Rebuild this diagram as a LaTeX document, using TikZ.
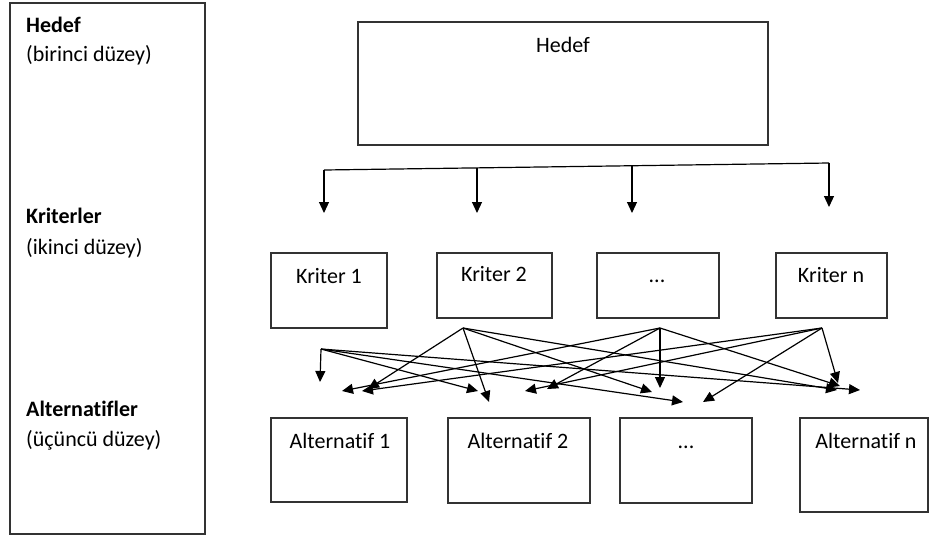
\documentclass[tikz,border=0pt]{standalone}
\usepackage{fontspec}
\setmainfont[Ligatures={NoCommon}]{Carlito}
\usetikzlibrary{arrows.meta}
\begin{document}
\begin{tikzpicture}[x=1pt,y=-1pt,
  box/.style={draw=black!80, line width=1.4pt, anchor=north west, inner sep=0pt, outer sep=0pt},
  txt/.style={font=\fontsize{22}{26}\selectfont, anchor=base, inner sep=0pt, text=black},
  lbl/.style={font=\fontsize{22}{26}\selectfont, anchor=base west, inner sep=0pt, text=black},
  lblb/.style={font=\fontsize{22}{26}\selectfont\bfseries, anchor=base west, inner sep=0pt, text=black},
  link/.style={line width=1.2pt, black},
  conn/.style={line width=1.2pt, black, -{Triangle[length=11pt,width=10pt]}}]
\useasboundingbox (0,0) rectangle (929,539);
% level frame
\node[box, minimum width=195pt, minimum height=531pt] (frame) at (10,3) {};
\node[lblb] (l1) at (26,32) {Hedef};
\node[lbl]  (l1b) at (26,61) {(birinci düzey)};
\node[lblb] (l2) at (26,223) {Kriterler};
\node[lbl]  (l2b) at (26,254) {(ikinci düzey)};
\node[lblb] (l3) at (26,416) {Alternatifler};
\node[lbl]  (l3b) at (26,446) {(üçüncü düzey)};
% goal
\node[box, minimum width=410pt, minimum height=123pt] (hedef) at (358,22) {};
\node[txt] (hedeft) at (563,52) {Hedef};
% criteria
\node[box, minimum width=116pt, minimum height=75pt] (k1) at (271,253) {};
\node[box, minimum width=115pt, minimum height=65pt] (k2) at (437,253) {};
\node[box, minimum width=122pt, minimum height=65pt] (k3) at (597,253) {};
\node[box, minimum width=111pt, minimum height=65pt] (k4) at (776,253) {};
\node[txt] (k1t) at (329,283) {Kriter 1};
\node[txt] (k2t) at (494,281) {Kriter 2};
\node[txt] (k3t) at (657,282) {...};
\node[txt] (k4t) at (831,282) {Kriter n};
% alternatives
\node[box, minimum width=136pt, minimum height=84pt] (a1) at (271,418) {};
\node[box, minimum width=142pt, minimum height=85pt] (a2) at (448,418) {};
\node[box, minimum width=132pt, minimum height=85pt] (a3) at (620,418) {};
\node[box, minimum width=128pt, minimum height=94pt] (a4) at (800,418) {};
\node[txt] (a1t) at (340,448) {Alternatif 1};
\node[txt] (a2t) at (518,448) {Alternatif 2};
\node[txt] (a3t) at (686,448) {...};
\node[txt] (a4t) at (866,448) {Alternatif n};
% top distribution line
\coordinate (b1) at (324,170);
\coordinate (b2) at (477,167.9);
\coordinate (b3) at (632,165.7);
\coordinate (b4) at (829,163);
\coordinate (e1) at (324,213);
\coordinate (e2) at (477,213);
\coordinate (e3) at (632,213);
\coordinate (e4) at (829,207);
\draw[link] (b1) -- (b4);
\draw[conn] (b1) -- (e1);
\draw[conn] (b2) -- (e2);
\draw[conn] (b3) -- (e3);
\draw[conn] (b4) -- (e4);
% lower fan sources
\coordinate (s1) at (321,349);
\coordinate (s2) at (463,328);
\coordinate (s3) at (660,328);
\coordinate (s4) at (822,328);
% tips
\coordinate (t11) at (320,382);
\coordinate (t12) at (478,391);
\coordinate (t13) at (683,402);
\coordinate (t14) at (860,390);
\coordinate (t21) at (368,389);
\coordinate (t22) at (489,402);
\coordinate (t23) at (652,392);
\coordinate (t24) at (837,390);
\coordinate (t31) at (342,391);
\coordinate (t32) at (547,389);
\coordinate (t33) at (660,388);
\coordinate (t34) at (840,386);
\coordinate (t41) at (362,391);
\coordinate (t42) at (525,391);
\coordinate (t43) at (703,402);
\coordinate (t44) at (838,383);
\foreach \s in {1,2,3,4}{
  \foreach \t in {1,2,3,4}{
    \draw[conn] (s\s) -- (t\s\t);
  }
}
\end{tikzpicture}
\end{document}
